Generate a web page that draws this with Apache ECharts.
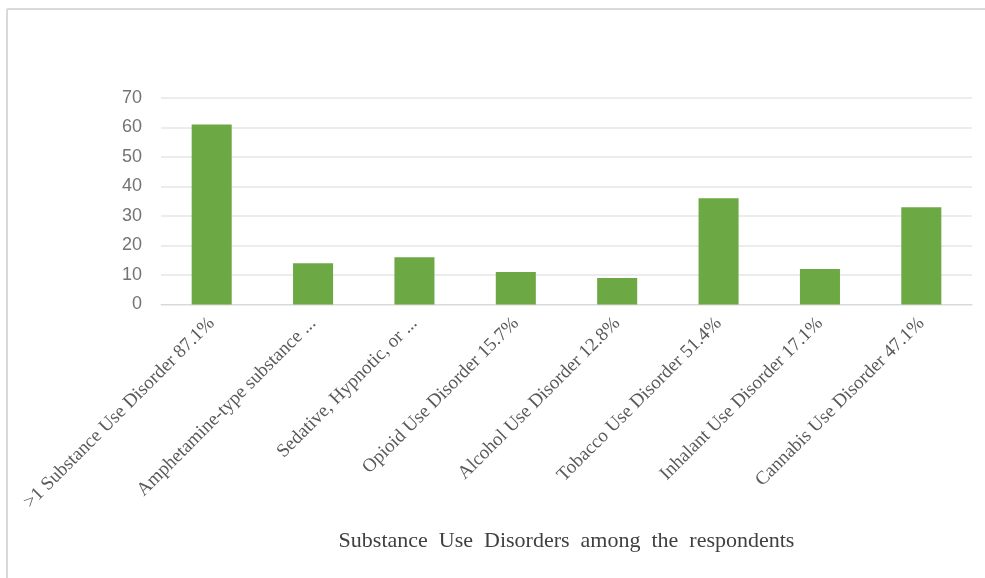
<!DOCTYPE html>
<html>
<head>
<meta charset="utf-8">
<script src="https://cdn.jsdelivr.net/npm/echarts@6/dist/echarts.min.js"></script>
<style>
html,body{margin:0;padding:0;background:#fff;}
#chart{width:985px;height:578px;}
</style>
</head>
<body>
<div id="chart"></div>
<script>
var categories = [
  '>1 Substance Use Disorder 87.1%',
  'Amphetamine-type substance ...',
  'Sedative, Hypnotic, or ...',
  'Opioid Use Disorder 15.7%',
  'Alcohol Use Disorder 12.8%',
  'Tobacco Use Disorder 51.4%',
  'Inhalant Use Disorder 17.1%',
  'Cannabis Use Disorder 47.1%'
];
var values = [61, 14, 16, 11, 9, 36, 12, 33];
var axisTitle = 'Substance  Use  Disorders  among  the  respondents';

var chart = echarts.init(document.getElementById('chart'), null, {renderer: 'canvas'});
chart.setOption({
  animation: false,
  backgroundColor: '#ffffff',
  graphic: [
    {type: 'line', shape: {x1: 7, y1: 9, x2: 985, y2: 9}, style: {stroke: '#d9d9d9', lineWidth: 2}},
    {type: 'line', shape: {x1: 7, y1: 9, x2: 7, y2: 578}, style: {stroke: '#d9d9d9', lineWidth: 2}}
  ],
  grid: {left: 161, right: 13, top: 98, bottom: 273.5, containLabel: false},
  xAxis: {
    type: 'category',
    data: categories,
    name: axisTitle,
    nameLocation: 'middle',
    nameGap: 226,
    nameTextStyle: {fontFamily: 'Liberation Serif', fontSize: 22, color: '#404040'},
    axisLine: {show: true, lineStyle: {color: '#d9d9d9', width: 1}},
    axisTick: {show: false},
    axisLabel: {
      interval: 0,
      rotate: 45,
      margin: 16,
      fontFamily: 'Liberation Serif',
      fontSize: 19,
      color: '#595959'
    }
  },
  yAxis: {
    type: 'value',
    min: 0,
    max: 70,
    interval: 10,
    axisLine: {show: false},
    axisTick: {show: false},
    axisLabel: {margin: 19, fontFamily: 'Liberation Sans', fontSize: 18, color: '#737373'},
    splitLine: {lineStyle: {color: '#e6e6e6', width: 1.5}}
  },
  series: [{
    type: 'bar',
    data: values,
    barWidth: '39.5%',
    itemStyle: {color: '#6CA844'}
  }]
});
</script>
</body>
</html>
